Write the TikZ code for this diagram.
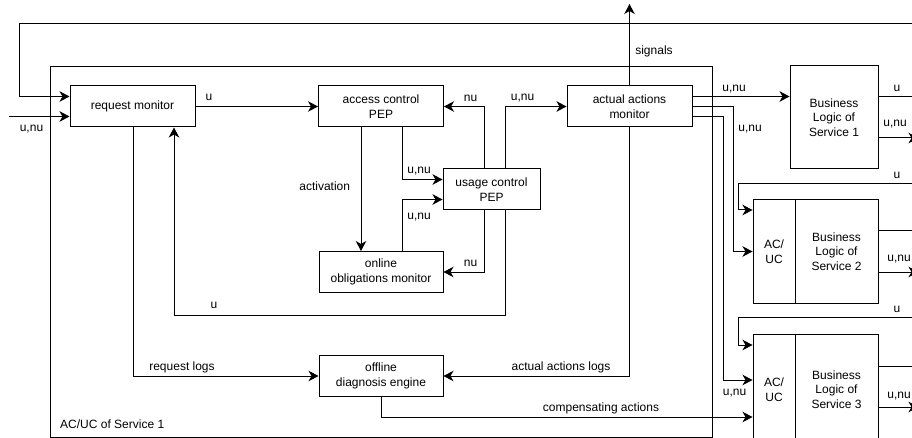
\documentclass[tikz,border=0pt]{standalone}
\usepackage{fontspec}
\setmainfont{Liberation Sans}
\usetikzlibrary{arrows.meta}
\begin{document}
\begin{tikzpicture}[x=1pt,y=-1pt,
  box/.style={draw,line width=1pt,align=center,inner sep=0pt,font=\fontsize{12}{14.5}\selectfont},
  arr/.style={line width=1pt,-{Stealth[length=10pt,width=10.5pt,inset=3pt]}},
  ln/.style={line width=1pt},
  lbl/.style={font=\fontsize{12}{14}\selectfont,inner sep=0pt}]
\useasboundingbox (0,0) rectangle (912,438);
\clip (0,0) rectangle (912,438);
\fill[white] (0,0) rectangle (912,438);

% container
\node[draw,line width=1pt,minimum width=662pt,minimum height=371pt,anchor=north west,inner sep=0pt] (cont) at (50,66) {};
\node[lbl,anchor=west] (contlbl) at (60,424) {AC/UC of Service 1};

% boxes
\node[box,minimum width=125pt,minimum height=41pt] (rm) at (132.5,106.5) {request monitor};
\node[box,minimum width=125pt,minimum height=41pt] (acp) at (381,106.5) {access control\\PEP};
\node[box,minimum width=97pt,minimum height=41pt] (ucp) at (491.5,189.5) {usage control\\PEP};
\node[box,minimum width=124pt,minimum height=41pt] (oom) at (381,272) {online\\obligations monitor};
\node[box,minimum width=125pt,minimum height=41pt] (aam) at (629.5,106.5) {actual actions\\monitor};
\node[box,minimum width=124pt,minimum height=41pt] (ode) at (381,376) {offline\\diagnosis engine};
\node[box,minimum width=88pt,minimum height=103pt] (bl1) at (834,117.5) {Business\\Logic of\\Service 1};
\node[box,minimum width=42pt,minimum height=103pt] (ac2) at (774,251.5) {AC/\\UC};
\node[box,minimum width=83pt,minimum height=103pt] (bl2) at (836.5,251.5) {Business\\Logic of\\Service 2};
\node[box,minimum width=42pt,minimum height=111pt] (ac3) at (774,389.5) {AC/\\UC};
\node[box,minimum width=83pt,minimum height=111pt] (bl3) at (836.5,389.5) {Business\\Logic of\\Service 3};

% free ends
\coordinate (topR) at (916,24);
\coordinate (inL) at (9,116.5);
\coordinate (sig) at (629.5,4);
\coordinate (uback) at (174,315);
\coordinate (r2) at (916,184);
\coordinate (r3) at (916,317);

% connectors
\draw[arr] (topR) -- (19,24) |- ([yshift=10pt]rm.west);
\draw[arr] (inL) -- ([yshift=-10pt]rm.west);
\draw[arr] (rm.east) -- (acp.west);
\draw[arr] ([xshift=-7pt]ucp.north) |- (acp.east);
\draw[arr] ([xshift=14pt]ucp.north) |- (aam.west);
\draw[arr] ([xshift=-20pt]acp.south) -- ([xshift=-20pt]oom.north);
\draw[arr] ([xshift=21pt]acp.south) |- ([yshift=10pt]ucp.west);
\draw[arr] ([xshift=21pt]oom.north) |- ([yshift=-10pt]ucp.west);
\draw[arr] ([xshift=-7pt]ucp.south) |- (oom.east);
\draw[arr] ([xshift=14pt]ucp.south) |- (uback) -- ([xshift=41.5pt]rm.south);
\draw[arr] (aam.north) -- (sig);
\draw[arr] (aam.south) |- (ode.east);
\draw[arr] ([xshift=0.5pt]rm.south) |- (ode.west);
\draw[arr] (ode.south) |- ([yshift=-27.5pt]ac3.west);
\draw[arr] ([yshift=10pt]aam.east) -- ([yshift=21pt]bl1.west);
\draw[arr] (aam.east) -- ++(41,0) |- (ac2.west);
\draw[arr] ([yshift=-10pt]aam.east) -- ++(31,0) |- ([yshift=9.5pt]ac3.west);
\draw[arr] (r2) -- (738,184) |- ([yshift=41.5pt]ac2.west);
\draw[arr] (r3) -- (738,317) |- ([yshift=44.5pt]ac3.west);

% outputs on the right
\draw[ln] ([yshift=20.5pt]bl1.east) -- ++(40,0);
\draw[arr] ([yshift=-20.5pt]bl1.east) -- ++(40,0);
\draw[ln] ([yshift=20.5pt]bl2.east) -- ++(40,0);
\draw[arr] ([yshift=-20.5pt]bl2.east) -- ++(40,0);
\draw[ln] ([yshift=23.5pt]bl3.east) -- ++(40,0);
\draw[arr] ([yshift=-17.5pt]bl3.east) -- ++(40,0);

% labels
\node[lbl] (l1) at (31.5,129) {u,nu};
\node[lbl] (l2) at (209,97) {u};
\node[lbl] (l3) at (470.5,98) {nu};
\node[lbl] (l4) at (522.5,98) {u,nu};
\node[lbl] (l5) at (324.7,186) {activation};
\node[lbl] (l6) at (419,171) {u,nu};
\node[lbl] (l7) at (419,217) {u,nu};
\node[lbl] (l8) at (470.5,263) {nu};
\node[lbl] (l9) at (214,305) {u};
\node[lbl] (l10) at (654,51) {signals};
\node[lbl] (l11) at (182,367) {request logs};
\node[lbl] (l12) at (561,367) {actual actions logs};
\node[lbl] (l13) at (601,408) {compensating actions};
\node[lbl] (l14) at (734,89) {u,nu};
\node[lbl] (l15) at (750,129) {u,nu};
\node[lbl] (l16) at (734.5,393) {u,nu};
\node[lbl] (l17) at (897,88) {u};
\node[lbl] (l18) at (895,124) {u,nu};
\node[lbl] (l19) at (897,175) {u};
\node[lbl] (l20) at (899,259) {u,nu};
\node[lbl] (l21) at (897,309) {u};
\node[lbl] (l22) at (899,396) {u,nu};
\end{tikzpicture}
\end{document}
